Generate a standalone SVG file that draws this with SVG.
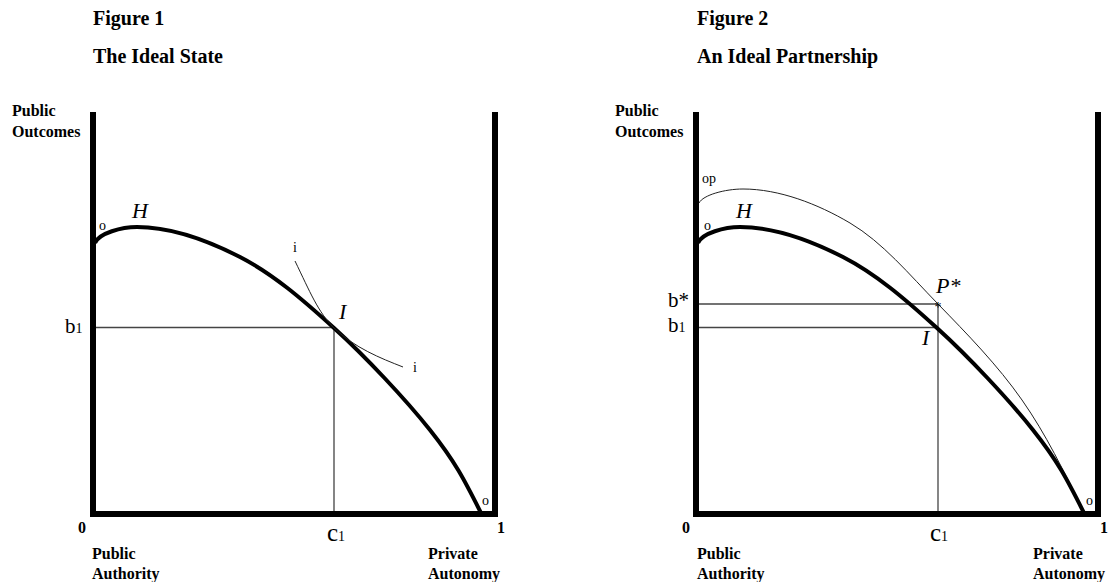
<svg xmlns="http://www.w3.org/2000/svg" width="1108" height="582" viewBox="0 0 1108 582">
<style>
text{font-family:"Liberation Serif","Times New Roman",serif;fill:#000}
.t{font-size:20px;font-weight:bold}
.lab{font-size:16px;font-weight:bold}
.var{font-size:21px}
.cv{font-size:25px}
.sub{font-size:14px}
.it{font-size:22px;font-style:italic}
.sm{font-size:14px}
.axis{fill:none;stroke:#000;stroke-width:6;stroke-linejoin:miter}
.curve{fill:none;stroke:#000;stroke-width:4}
.thin{fill:none;stroke:#222;stroke-width:1}
.ref{fill:none;stroke:#444;stroke-width:1.3}
</style>
<rect width="1108" height="582" fill="#fff"/>

<g id="figure1">
  <g id="fig1-titles">
    <text class="t" x="93" y="25">Figure 1</text>
    <text class="t" x="93" y="63">The Ideal State</text>
  </g>
  <g id="fig1-axes">
    <path class="axis" d="M93,112 V514 H495 V112"/>
    <text class="lab" x="12" y="116">Public</text>
    <text class="lab" x="12" y="137">Outcomes</text>
    <text class="lab" x="78" y="533">0</text>
    <text class="lab" x="497" y="533">1</text>
    <text class="lab" x="92" y="559">Public</text>
    <text class="lab" x="92" y="579">Authority</text>
    <text class="lab" x="428" y="559">Private</text>
    <text class="lab" x="428" y="579">Autonomy</text>
  </g>
  <g id="fig1-connectors">
    <path class="ref" d="M96,327.5 H334 V511"/>
    <path id="fig1-H" class="curve" d="M95,243 C99,233 122,227 137,227 C171,227 207.2,240.2 240,257 C272.8,273.8 302.3,299.2 334,328 C365.7,356.8 405.5,399.2 430,430 C454.5,460.8 464,479 481,513"/>
    <path id="fig1-i" class="thin" d="M295,261 C310,292 318,312 334,328 C355,348 380,358 403,367"/>
  </g>
  <g id="fig1-labels">
    <text class="var" x="65" y="333">b<tspan class="sub">1</tspan></text>
    <text class="cv" x="327" y="541">c<tspan class="sub">1</tspan></text>
    <text class="it" x="132" y="218">H</text>
    <text class="it" x="339" y="319">I</text>
    <text class="sm" x="293" y="252">i</text>
    <text class="sm" x="413" y="372">i</text>
    <text class="sm" x="99" y="230">o</text>
    <text class="sm" x="482" y="505">o</text>
  </g>
</g>

<g id="figure2">
  <g id="fig2-titles">
    <text class="t" x="697" y="25">Figure 2</text>
    <text class="t" x="697" y="63">An Ideal Partnership</text>
  </g>
  <g id="fig2-axes">
    <path class="axis" d="M696,112 V514 H1098 V112"/>
    <text class="lab" x="615" y="116">Public</text>
    <text class="lab" x="615" y="137">Outcomes</text>
    <text class="lab" x="682" y="533">0</text>
    <text class="lab" x="1100" y="533">1</text>
    <text class="lab" x="697" y="559">Public</text>
    <text class="lab" x="697" y="579">Authority</text>
    <text class="lab" x="1033" y="559">Private</text>
    <text class="lab" x="1033" y="579">Autonomy</text>
  </g>
  <g id="fig2-connectors">
    <path class="ref" d="M699,304 H938"/>
    <path class="ref" d="M699,327.5 H938"/>
    <path class="ref" d="M938,304 V511"/>
    <path id="fig2-op" class="thin" d="M699,203 C703,195 725,189 743,189 C779,189 817.5,203.8 850,223 C882.5,242.2 909.3,274.5 938,304 C966.7,333.5 997.7,365.2 1022,400 C1046.3,434.8 1063.3,470 1084,513"/>
    <path id="fig2-H" class="curve" d="M698,243 C702,233 725,227 740,227 C774,227 810.2,240.2 843,257 C875.8,273.8 905.3,299.2 937,328 C968.7,356.8 1008.5,399.2 1033,430 C1057.5,460.8 1067,479 1084,513"/>
  </g>
  <g id="fig2-labels">
    <text class="var" x="668" y="307">b*</text>
    <text class="var" x="668" y="332">b<tspan class="sub">1</tspan></text>
    <text class="cv" x="930" y="541">c<tspan class="sub">1</tspan></text>
    <text class="it" x="736" y="218">H</text>
    <text class="it" x="936" y="293">P*</text>
    <text class="sm" x="938" y="312" text-anchor="middle">*</text>
    <text class="it" x="922" y="345">I</text>
    <text class="sm" x="702" y="183">op</text>
    <text class="sm" x="704" y="230">o</text>
    <text class="sm" x="1086" y="505">o</text>
  </g>
</g>
</svg>
